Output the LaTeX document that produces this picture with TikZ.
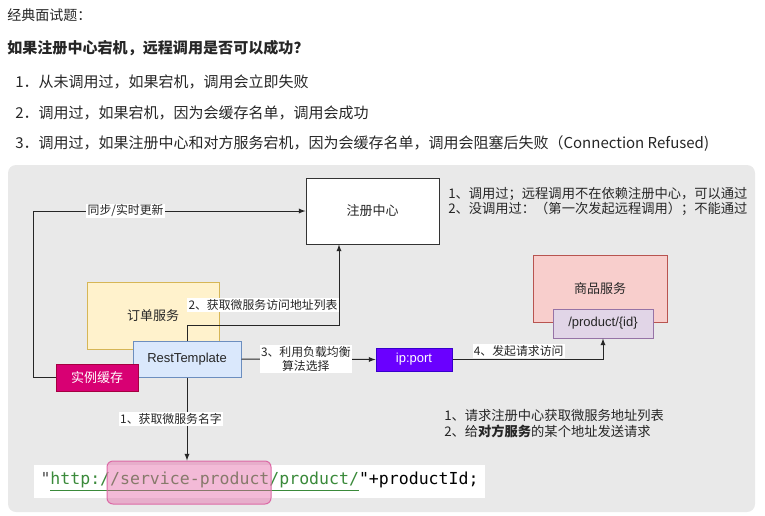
\documentclass[tikz,border=0pt]{standalone}
\usepackage{fontspec}
\setmainfont{Noto Sans CJK SC}
\newfontfamily\arialfont{Liberation Sans}
\setmonofont{DejaVu Sans Mono}
\usepackage{xcolor}
\usetikzlibrary{arrows}
\usetikzlibrary{positioning}

\definecolor{panelgray}{HTML}{E9E9E9}
\definecolor{txtdark}{HTML}{262626}
\definecolor{orderfill}{HTML}{FFF2CC}
\definecolor{orderline}{HTML}{D6B656}
\definecolor{restfill}{HTML}{DAE8FC}
\definecolor{restline}{HTML}{6C8EBF}
\definecolor{cachefill}{HTML}{D80073}
\definecolor{cacheline}{HTML}{A50040}
\definecolor{ipfill}{HTML}{6A00FF}
\definecolor{ipline}{HTML}{3700CC}
\definecolor{goodsfill}{HTML}{F8CECC}
\definecolor{goodsline}{HTML}{B85450}
\definecolor{apifill}{HTML}{E1D5E7}
\definecolor{apiline}{HTML}{9673A6}
\definecolor{codegreen}{HTML}{3A8A3A}
\definecolor{hlfill}{HTML}{E667A8}
\definecolor{hlline}{HTML}{DC6AA6}

\begin{document}
\begin{tikzpicture}[x=0.75pt,y=-0.75pt]
	%\draw[help lines] (0,0) grid (765,515);
	\useasboundingbox (0,0) rectangle (765,515);
	
	\tikzstyle{qtext} = [anchor=west,inner sep=0pt,text=txtdark,font=\fontsize{11.25}{13}\selectfont]
	\tikzstyle{vbox} = [rectangle,draw,line width=0.75pt,inner sep=0pt,text=txtdark,font=\fontsize{9.75}{12}\selectfont]
	\tikzstyle{vedge} = [->,>=latex,line width=0.75pt,draw=black!85]
	\tikzstyle{elabel} = [fill=white,inner sep=1pt,text=txtdark,align=center,font=\fontsize{8.9}{10.5}\selectfont]
	\tikzstyle{vnote} = [anchor=west,align=left,inner sep=0pt,text=txtdark,font=\fontsize{9.95}{11.6}\selectfont]
	
	% question text
	\node[qtext,font=\fontsize{10.5}{12}\selectfont] (title) at (7,15) {经典面试题：};
	\node[qtext,font=\fontsize{11.3}{13}\bfseries] (question) at (7,48) {如果注册中心宕机，远程调用是否可以成功？};
	\node[qtext] (ansa) at (15,82) {1．从未调用过，如果宕机，调用会立即失败};
	\node[qtext] (ansb) at (15,113) {2．调用过，如果宕机，因为会缓存名单，调用会成功};
	\node[qtext] (ansc) at (15,144) {3．调用过，如果注册中心和对方服务宕机，因为会缓存名单，调用会阻塞后失败（Connection Refused)};
	
	\fill[panelgray,rounded corners=6pt] (8,165) rectangle (755,512);
	
	\node[vbox,fill=white,draw=black!80,minimum width=99.75pt,minimum height=49.5pt] (reg) at (372.5,211) {注册中心};
	\node[vbox,fill=orderfill,draw=orderline,minimum width=99pt,minimum height=50.25pt] (order) at (153,315.5) {订单服务};
	\node[vbox,fill=restfill,draw=restline,minimum width=81pt,minimum height=27pt,font=\arialfont\fontsize{9.75}{12}\selectfont] (rest) at (187,359) {RestTemplate};
	\node[vbox,fill=cachefill,draw=cacheline,text=white,minimum width=61.5pt,minimum height=20.25pt] (cache) at (97,377.5) {实例缓存};
	\node[vbox,fill=ipfill,draw=ipline,text=white,minimum width=57pt,minimum height=17.25pt,font=\arialfont\fontsize{9.75}{12}\selectfont] (ipport) at (414,359.5) {ip:port};
	\node[vbox,fill=goodsfill,draw=goodsline,minimum width=100.5pt,minimum height=50.25pt] (goods) at (600,288.5) {商品服务};
	\node[vbox,fill=apifill,draw=apiline,minimum width=75pt,minimum height=21.75pt,font=\arialfont\fontsize{9.75}{12}\selectfont] (api) at (603,323.5) {/product/\{id\}};
	
	\node[vnote] (notereg) at (448,201.5) {1、调用过；远程调用不在依赖注册中心，可以通过\\2、没调用过：（第一次发起远程调用）；不能通过};
	\node[vnote,font=\fontsize{9.95}{12}\selectfont] (notecall) at (444,424) {1、请求注册中心获取微服务地址列表\\2、给\textbf{对方服务}的某个地址发送请求};
	
	\node[fill=white,inner sep=0pt,minimum width=338.25pt,minimum height=24.75pt,font=\ttfamily\fontsize{12.4}{14}\selectfont] (code) at (259.5,481.5)
		{\textcolor{black!70}{"}\textcolor{codegreen}{\underline{http://service-product/product/}}"+productId;};
	\node[rectangle,rounded corners=4.5pt,fill=hlfill,fill opacity=0.45,draw=hlline,line width=0.75pt,minimum width=123pt,minimum height=32.25pt] (hl) at (189,482.5) {};
	
	\coordinate (syncturn) at (33,211);
	\coordinate (listturn) at (339,325);
	
	\draw[vedge] (cache.west) -| (syncturn) -- node[elabel,pos=0.34] {同步/实时更新} (reg.west);
	\draw[vedge] (rest.north) -- (rest.north |- listturn) -- node[elabel,yshift=15pt] {2、获取微服务访问地址列表} (listturn) -- (listturn |- reg.south);
	\draw[vedge] (rest.east) -- node[elabel,xshift=-2pt] {3、利用负载均衡\\算法选择} (ipport.west);
	\draw[vedge] (ipport.east) -| node[elabel,pos=0.22,above=1pt] {4、发起请求访问} (api.south);
	\draw[vedge] (rest.south) -- node[elabel,xshift=-12pt] {1、获取微服务名字} (rest.south |- hl.north);

\end{tikzpicture}
\end{document}
